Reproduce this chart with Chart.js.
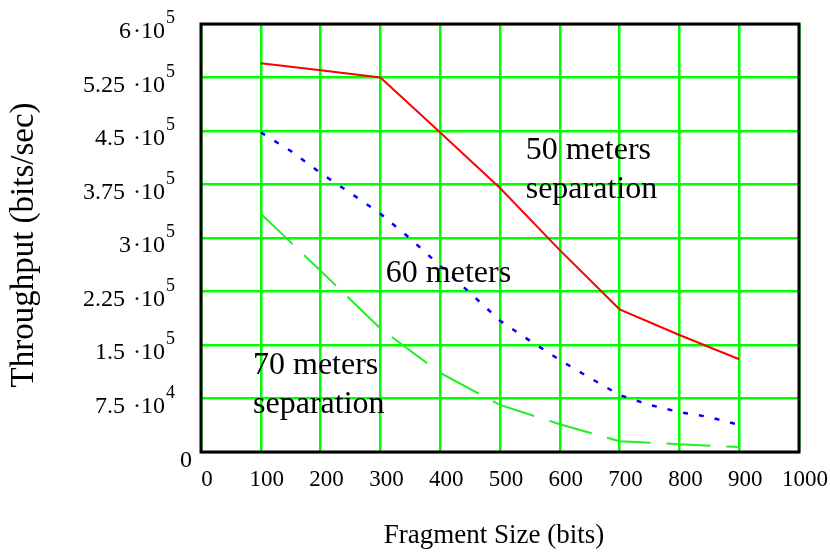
<!DOCTYPE html>
<html>
<head>
<meta charset="utf-8">
<style>
    html, body { margin: 0; padding: 0; background: #fff; }
    #wrap { width: 830px; height: 553px; }
</style>
<script src="https://cdn.jsdelivr.net/npm/chart.js@4.4.1/dist/chart.umd.min.js"></script>
</head>
<body>
<div id="wrap"><canvas id="myChart" width="830" height="553"></canvas></div>
<script>
    'use strict';

    // fragment sizes (bits)
    var sizes = [100, 200, 300, 400, 500, 600, 700, 800, 900];
    var sizesFine = [100, 150, 200, 250, 300, 350, 400, 450, 500, 550, 600, 650, 700, 750, 800, 850, 900];

    // throughput (bits/sec)
    var sep50 = [545000, 535000, 525000, 448000, 370000, 283000, 200000, 164000, 130000];
    var sep60 = [448000, 422000, 391000, 363000, 334000, 299000, 261000, 223000, 184000,
                 156000, 129000, 104000, 80000, 66000, 56000, 49000, 38000];
    var sep70 = [334000, 254000, 173000, 111000, 66000, 39000, 15000, 11000, 7000];

    // y tick labels: mantissa and power of ten
    var yTickValues = [0, 75000, 150000, 225000, 300000, 375000, 450000, 525000, 600000];
    var yTickMant = ['0', '7.5 ', '1.5 ', '2.25 ', '3', '3.75 ', '4.5 ', '5.25 ', '6'];
    var yTickExp = ['', '4', '5', '5', '5', '5', '5', '5', '5'];

    var notes = [
        { lines: ['50 meters', 'separation'], x: 543, y: 411000 },
        { lines: ['60 meters'], x: 309, y: 239000 },
        { lines: ['70 meters', 'separation'], x: 87, y: 110000 }
    ];

    function points(xs, ys) {
        var out = [];
        for (var i = 0; i < xs.length; i++) {
            out.push({ x: xs[i], y: ys[i] });
        }
        return out;
    }

    var serif = '"Liberation Serif", "Times New Roman", serif';

    // frame, y labels with exponents, axis titles and the text notes in the plot
    var extras = {
        id: 'extras',
        afterDraw: function (chart) {
            var ctx = chart.ctx;
            var a = chart.chartArea;
            var xs = chart.scales.x;
            var ys = chart.scales.y;

            ctx.save();
            ctx.strokeStyle = '#000';
            ctx.lineWidth = 3;
            ctx.strokeRect(a.left, a.top, a.right - a.left, a.bottom - a.top);

            ctx.fillStyle = '#000';
            ctx.textBaseline = 'alphabetic';
            for (var i = 0; i < yTickValues.length; i++) {
                var py = ys.getPixelForValue(yTickValues[i]);
                ctx.font = '24px ' + serif;
                ctx.textAlign = 'right';
                if (yTickExp[i] === '') {
                    ctx.fillText(yTickMant[i], 192, py + 15);
                    continue;
                }
                ctx.fillText('\u00b7' + '10', 165, py + 14);
                var w = ctx.measureText('\u00b7' + '10').width;
                ctx.fillText(yTickMant[i], 165 - w - 2, py + 14);
                ctx.font = '18px ' + serif;
                ctx.textAlign = 'left';
                ctx.fillText(yTickExp[i], 166, py - 1);
            }

            ctx.save();
            ctx.translate(24, 245);
            ctx.rotate(-Math.PI / 2);
            ctx.font = '33px ' + serif;
            ctx.textAlign = 'center';
            ctx.textBaseline = 'middle';
            ctx.fillText('Throughput (bits/sec)', 0, 0);
            ctx.restore();

            ctx.font = '27px ' + serif;
            ctx.textAlign = 'center';
            ctx.textBaseline = 'middle';
            ctx.fillText('Fragment Size (bits)', 494, 536);

            ctx.font = '32px ' + serif;
            ctx.textAlign = 'left';
            ctx.textBaseline = 'alphabetic';
            notes.forEach(function (n) {
                var nx = xs.getPixelForValue(n.x);
                var ny = ys.getPixelForValue(n.y);
                n.lines.forEach(function (t, k) {
                    ctx.fillText(t, nx, ny + k * 39);
                });
            });
            ctx.restore();
        }
    };

    var ctx = document.getElementById('myChart').getContext('2d');
    var myChart = new Chart(ctx, {
        type: 'scatter',
        data: {
            datasets: [{
                label: '50 meters separation',
                data: points(sizes, sep50),
                showLine: true,
                borderColor: '#ff0000',
                borderWidth: 2,
                pointRadius: 0
            }, {
                label: '60 meters',
                data: points(sizesFine, sep60),
                showLine: true,
                borderColor: '#0000ff',
                borderWidth: 2.5,
                borderDash: [5, 11],
                pointRadius: 0
            }, {
                label: '70 meters separation',
                data: points(sizes, sep70),
                showLine: true,
                borderColor: '#22ee22',
                borderWidth: 2,
                borderDash: [44, 16],
                pointRadius: 0
            }]
        },
        options: {
            responsive: false,
            animation: false,
            layout: {
                padding: { top: 24, right: 31, left: 0, bottom: 0 }
            },
            plugins: {
                legend: { display: false },
                tooltip: { enabled: false }
            },
            scales: {
                x: {
                    type: 'linear',
                    min: 0,
                    max: 1000,
                    ticks: {
                        stepSize: 100,
                        color: '#000',
                        font: { family: serif, size: 23 },
                        padding: 14,
                        labelOffset: 6,
                        callback: function (v) { return String(v); }
                    },
                    grid: { color: '#00ff00', lineWidth: 2.5, drawTicks: false },
                    border: { display: false },
                    afterFit: function (scale) {
                        scale.height = 101;
                        scale.paddingLeft = 0;
                        scale.paddingRight = 0;
                    }
                },
                y: {
                    min: 0,
                    max: 600000,
                    ticks: { display: false, stepSize: 75000 },
                    grid: { color: '#00ff00', lineWidth: 2.5, drawTicks: false },
                    border: { display: false },
                    afterFit: function (scale) { scale.width = 201; }
                }
            }
        },
        plugins: [extras]
    });
</script>
</body>
</html>
